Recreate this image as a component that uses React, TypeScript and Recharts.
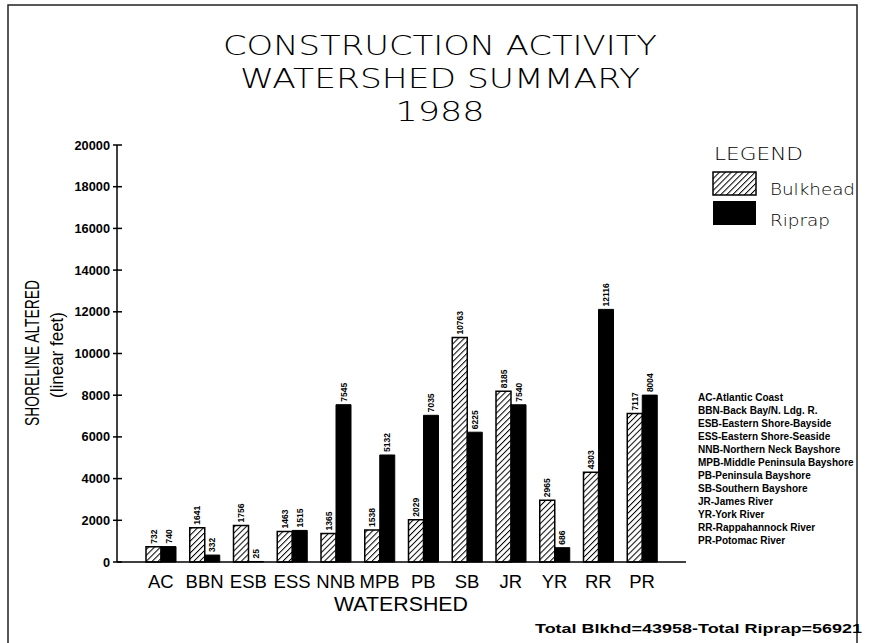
import React from "react";
import { BarChart, Bar, XAxis, YAxis, LabelList } from "recharts";

const watersheds = ["AC", "BBN", "ESB", "ESS", "NNB", "MPB", "PB", "SB", "JR", "YR", "RR", "PR"];
const bulkhead = [732, 1641, 1756, 1463, 1365, 1538, 2029, 10763, 8185, 2965, 4303, 7117];
const riprap = [740, 332, 25, 1515, 7545, 5132, 7035, 6225, 7540, 686, 12116, 8004];
const yTicks = [0, 2000, 4000, 6000, 8000, 10000, 12000, 14000, 16000, 18000, 20000];
const abbreviations = [
  "AC-Atlantic Coast",
  "BBN-Back Bay/N. Ldg. R.",
  "ESB-Eastern Shore-Bayside",
  "ESS-Eastern Shore-Seaside",
  "NNB-Northern Neck Bayshore",
  "MPB-Middle Peninsula Bayshore",
  "PB-Peninsula Bayshore",
  "SB-Southern Bayshore",
  "JR-James River",
  "YR-York River",
  "RR-Rappahannock River",
  "PR-Potomac River",
];
const titleLines = ["CONSTRUCTION ACTIVITY", "WATERSHED SUMMARY", "1988"];

const data = watersheds.map((name, i) => ({
  name,
  bulkhead: bulkhead[i],
  riprap: riprap[i],
}));

const sans = "'Liberation Sans', Arial, sans-serif";
const thin = "'DejaVu Sans', sans-serif";

function YTick(props: any) {
  const { x, y, payload } = props;
  return (
    <g>
      <line x1={x - 4} x2={x + 5} y1={y} y2={y} stroke="#000" strokeWidth={1.5} />
      <text
        x={x - 7}
        y={y}
        textAnchor="end"
        dominantBaseline="central"
        fontSize={13}
        fontWeight="bold"
        fontFamily={sans}
        fill="#000"
        textLength={String(payload.value).length * 7.1}
        lengthAdjust="spacingAndGlyphs"
      >
        {payload.value}
      </text>
    </g>
  );
}

function BarValue(props: any) {
  const { x, y, width, value } = props;
  const cx = Number(x) + Number(width) / 2;
  return (
    <text
      transform={`translate(${cx},${Number(y) - 3}) rotate(-90)`}
      dominantBaseline="central"
      fontSize={8.5}
      fontWeight="bold"
      fontFamily={sans}
      fill="#000"
    >
      {value}
    </text>
  );
}

export default function App() {
  return (
    <div
      style={{
        position: "absolute",
        left: 0,
        top: 0,
        width: 871,
        height: 643,
        background: "#fff",
        overflow: "hidden",
      }}
    >
      <BarChart
        width={871}
        height={643}
        data={data}
        margin={{ top: 145, right: 185, bottom: 51, left: 57 }}
        barSize={15}
        barGap={0}
        style={{ fontFamily: sans }}
      >
        <XAxis
          dataKey="name"
          padding={{ left: 22, right: 22 }}
          tickLine={false}
          tickSize={0}
          tickMargin={13}
          axisLine={{ stroke: "#000", strokeWidth: 1.5 }}
          tick={{ fontSize: 18.5, fill: "#000" }}
          interval={0}
        />
        <XAxis
          xAxisId="top"
          dataKey="name"
          orientation="top"
          height={0}
          tick={false}
          tickLine={false}
          axisLine={{ stroke: "#000", strokeWidth: 1.5 }}
        />
        <YAxis
          domain={[0, 20000]}
          ticks={yTicks}
          width={60}
          tickLine={false}
          tickSize={0}
          tickMargin={0}
          axisLine={{ stroke: "#000", strokeWidth: 1.5 }}
          tick={<YTick />}
        />
        <YAxis
          yAxisId="right"
          orientation="right"
          domain={[0, 20000]}
          width={0}
          tick={false}
          tickLine={false}
          axisLine={{ stroke: "#000", strokeWidth: 1.5 }}
        />
        <Bar
          dataKey="bulkhead"
          fill="url(#hatch)"
          stroke="#000"
          strokeWidth={1.5}
          isAnimationActive={false}
        >
          <LabelList dataKey="bulkhead" content={<BarValue />} />
        </Bar>
        <Bar
          dataKey="riprap"
          fill="#000"
          stroke="#000"
          strokeWidth={1}
          isAnimationActive={false}
        >
          <LabelList dataKey="riprap" content={<BarValue />} />
        </Bar>
      </BarChart>

      <svg
        width={871}
        height={643}
        style={{ position: "absolute", left: 0, top: 0, pointerEvents: "none" }}
      >
        <defs>
          <pattern
            id="hatch"
            patternUnits="userSpaceOnUse"
            width={4.2}
            height={4.2}
            patternTransform="rotate(45)"
          >
            <rect width={4.2} height={4.2} fill="#fff" />
            <line x1={0} y1={0} x2={0} y2={4.2} stroke="#000" strokeWidth={2} />
          </pattern>
        </defs>

        {/* page frame */}
        <rect x={8} y={5} width={849} height={660} fill="none" stroke="#222" strokeWidth={1.5} />

        {titleLines.map((t, i) => (
          <text
            key={t}
            x={440}
            y={45 + i * 33}
            textAnchor="middle"
            dominantBaseline="central"
            fontSize={27}
            fontWeight={200}
            fontFamily={thin}
            fill="#000"
            textLength={[434, 400, 89][i]}
            lengthAdjust="spacingAndGlyphs"
          >
            {t}
          </text>
        ))}

        <text
          transform="translate(31,353) rotate(-90)"
          textAnchor="middle"
          dominantBaseline="central"
          fontSize={21}
          fontFamily={sans}
          fill="#000"
          textLength={146}
          lengthAdjust="spacingAndGlyphs"
        >
          SHORELINE ALTERED
        </text>
        <text
          transform="translate(56,355) rotate(-90)"
          textAnchor="middle"
          dominantBaseline="central"
          fontSize={19}
          fontFamily={sans}
          fill="#000"
          textLength={86}
          lengthAdjust="spacingAndGlyphs"
        >
          (linear feet)
        </text>

        <text
          x={401}
          y={604}
          textAnchor="middle"
          dominantBaseline="central"
          fontSize={19.5}
          fontFamily={sans}
          fill="#000"
          textLength={134}
          lengthAdjust="spacingAndGlyphs"
        >
          WATERSHED
        </text>

        {/* legend */}
        <text x={714} y={154} dominantBaseline="central" fontSize={17} fontWeight={200} fontFamily={thin} fill="#000" textLength={89} lengthAdjust="spacingAndGlyphs">
          LEGEND
        </text>
        <rect x={713} y={172} width={43} height={23} fill="url(#hatch)" stroke="#000" strokeWidth={1.5} />
        <text x={770} y={189} dominantBaseline="central" fontSize={16} fontFamily={thin} fontWeight={200} fill="#000" textLength={85} lengthAdjust="spacingAndGlyphs">
          Bulkhead
        </text>
        <rect x={713} y={201} width={43} height={24} fill="#000" />
        <text x={770} y={220} dominantBaseline="central" fontSize={16} fontFamily={thin} fontWeight={200} fill="#000" textLength={60} lengthAdjust="spacingAndGlyphs">
          Riprap
        </text>

        {abbreviations.map((a, i) => (
          <text
            key={a}
            x={698}
            y={397 + i * 13}
            dominantBaseline="central"
            fontSize={10}
            fontWeight="bold"
            fontFamily={sans}
            fill="#000"
          >
            {a}
          </text>
        ))}

        <text
          x={535}
          y={629}
          dominantBaseline="central"
          fontSize={12}
          fontFamily={sans}
          fontWeight="bold"
          fill="#000"
          textLength={327}
          lengthAdjust="spacingAndGlyphs"
        >
          Total Blkhd=43958-Total Riprap=56921
        </text>
      </svg>
    </div>
  );
}
